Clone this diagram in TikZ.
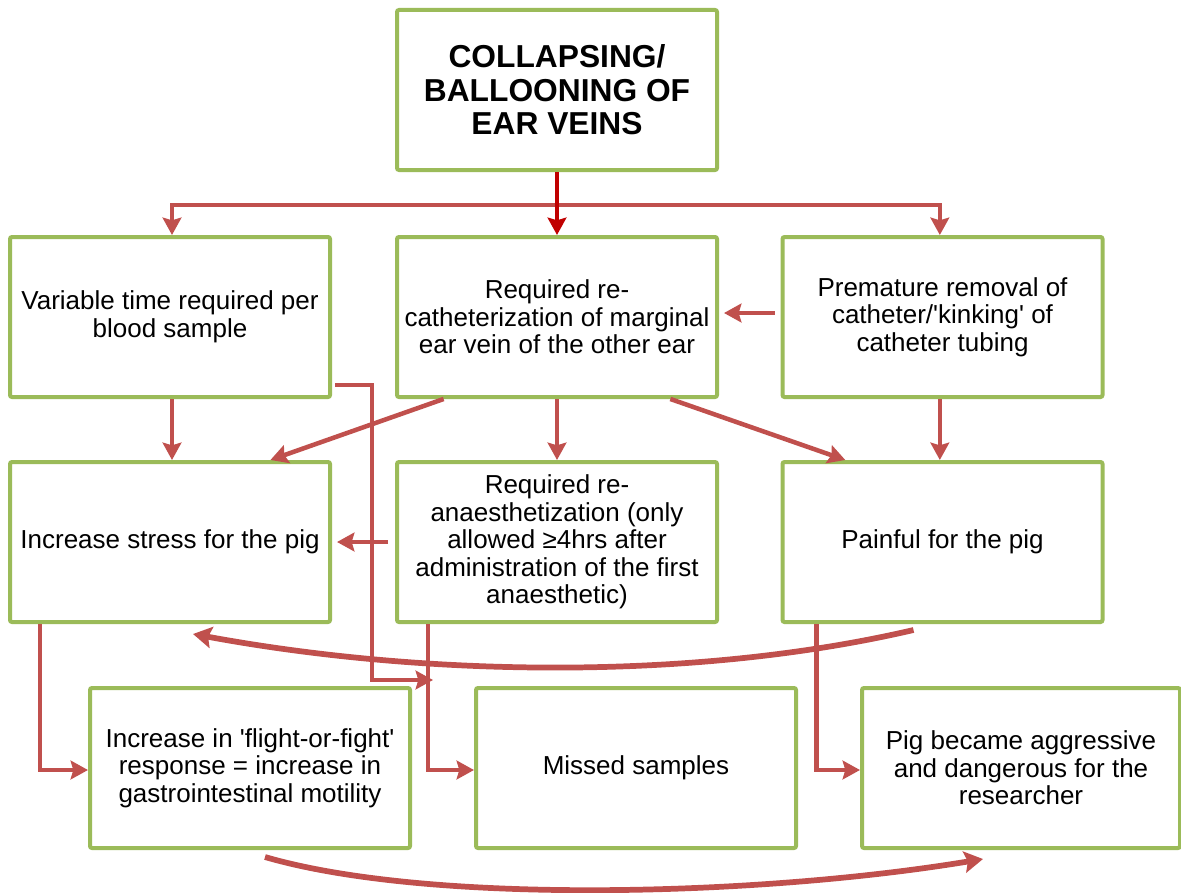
\documentclass[tikz,border=0pt]{standalone}
\usepackage{fontspec}
\setmainfont{Liberation Sans}
\usetikzlibrary{arrows.meta,calc}
\definecolor{boxgreen}{HTML}{9BBB59}
\definecolor{arrred}{HTML}{C0504D}
\definecolor{darkred}{HTML}{C00000}
\begin{document}
\begin{tikzpicture}[x=0.75pt,y=-0.75pt,
  box/.style={draw=boxgreen, line width=3pt, fill=white, rounded corners=1.5pt,
    minimum width=240pt, minimum height=120pt, inner sep=0pt, align=center,
    font=\fontsize{19.5}{20.6}\selectfont},
  titlebox/.style={box, font=\bfseries\fontsize{23.8}{25.2}\selectfont},
  arr/.style={draw=arrred, line width=3.4pt,
    -{Stealth[length=13pt,width=14pt,inset=2pt]}},
  curvearr/.style={draw=arrred, line width=4.3pt,
    -{Stealth[length=14pt,width=16pt,inset=2.5pt]}}]
\useasboundingbox (0,0) rectangle (1181,892);

% boxes
\node[titlebox] (T) at (557,90) {COLLAPSING/\\BALLOONING OF\\EAR VEINS};
\node[box] (A) at (170,317) {Variable time required per\\blood sample};
\node[box] (B) at (557,317) {Required re-\\catheterization of marginal\\ear vein of the other ear};
\node[box] (C) at (942.5,317) {Premature removal of\\catheter/\textquotesingle kinking\textquotesingle\ of\\catheter tubing};
\node[box] (D) at (170,542) {Increase stress for the pig};
\node[box] (E) at (557,542) {Required re-\\anaesthetization (only\\allowed ≥4hrs after\\administration of the first\\anaesthetic)};
\node[box] (F) at (942.5,542) {Painful for the pig};
\node[box] (G) at (250,768) {Increase in \textquotesingle flight-or-fight\textquotesingle\\response = increase in\\gastrointestinal motility};
\node[box] (H) at (636,768) {Missed samples};
\node[box, minimum width=238.5pt] (I) at (1021,768) {Pig became aggressive\\and dangerous for the\\researcher};

% branches from the title box
\draw[arr] (T.south) -- ++(0,33) -| ([xshift=1.5pt]A.north);
\draw[arr] (T.south) -- ++(0,33) -| ([xshift=-2pt]C.north);
\draw[arr, draw=darkred] (T.south) -- (B.north);

% second row links
\draw[arr] ([xshift=1.5pt]A.south) -- ([xshift=1.5pt]D.north);
\draw[arr] ($(B.south west)!0.15!(B.south east)$) -- ($(D.north west)!0.81!(D.north east)$);
\draw[arr] (B.south) -- (E.north);
\draw[arr] ($(B.south west)!0.85!(B.south east)$) -- ($(F.north west)!0.2!(F.north east)$);
\draw[arr] ([xshift=-2pt]C.south) -- ([xshift=-2pt]F.north);
\draw[arr] ($(C.west)+(-6,-4)$) -- ($(B.east)+(5,-4)$);
\draw[arr] ($(E.west)+(-7,0)$) -- ($(D.east)+(5,0)$);

% third row links
\coordinate (eh) at ($(E.south west)+(33,0)$);
\draw[arr] ($(D.south west)+(32,0)$) |- ($(G.west)+(0,2)$);
\draw[arr] (eh) |- ($(H.west)+(0,2)$);
\draw[arr] ($(F.south west)+(36,0)$) |- ($(I.west)+(0,2)$);
\draw[arr] ($(A.south east)+(3,-14)$) -- ++(37,0) |- ($(eh)+(5,56)$);

% curved links
\draw[curvearr] ($(F.south west)+(133,6)$) .. controls (690,682) and (420,676) .. ($(D.south west)+(185,10)$);
\draw[curvearr] ($(G.south west)+(177,7)$) .. controls (430,905) and (760,896) .. ($(I.south west)+(123,9)$);
\end{tikzpicture}
\end{document}
